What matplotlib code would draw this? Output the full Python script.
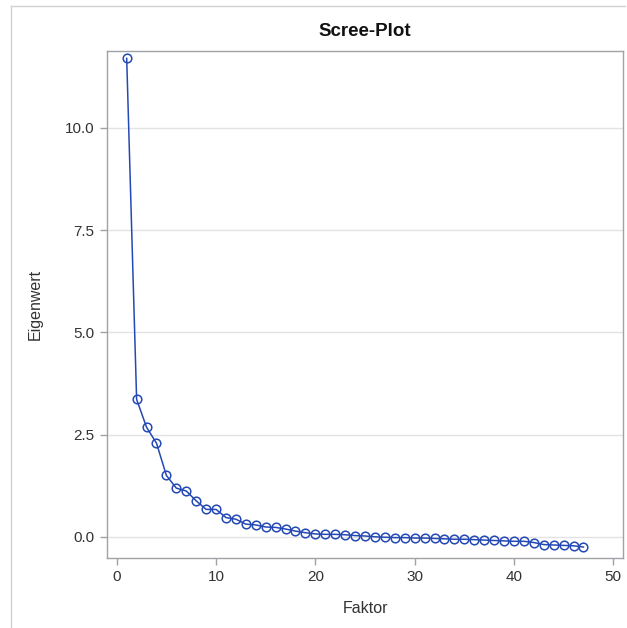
"""Scree plot of factor eigenvalues (SAS style)."""
import matplotlib
matplotlib.use('Agg')
import matplotlib.pyplot as plt
from matplotlib.lines import Line2D

plt.rcParams['font.family'] = ['Liberation Sans', 'DejaVu Sans']

# Data
faktor = list(range(1, 48))
eigenwert = [11.70, 3.36, 2.68, 2.29, 1.50, 1.19, 1.12, 0.88, 0.67, 0.67,
             0.47, 0.43, 0.31, 0.29, 0.24, 0.23, 0.19, 0.14, 0.10, 0.07,
             0.06, 0.06, 0.05, 0.03, 0.02, 0.00, -0.01, -0.02, -0.02, -0.03,
             -0.03, -0.04, -0.05, -0.06, -0.06, -0.07, -0.08, -0.09, -0.10, -0.11,
             -0.11, -0.14, -0.19, -0.20, -0.21, -0.22, -0.25]
x_ticks = [0, 10, 20, 30, 40, 50]
y_ticks = [0.0, 2.5, 5.0, 7.5, 10.0]

C_LINE = '#2549B4'
C_FRAME = '#9FA3A8'
C_GRID = '#E3E3E3'
C_TEXT = '#333333'

fig = plt.figure(figsize=(6.27, 6.28), dpi=100)
ax = fig.add_axes([0.1707, 0.112, 0.8229, 0.8068])

ax.plot(faktor, eigenwert, color=C_LINE, lw=1.1, marker='o', markersize=6.2,
        markerfacecolor='none', markeredgecolor=C_LINE, markeredgewidth=1.1,
        zorder=3)

ax.set_xlim(-0.98, 50.98)
ax.set_ylim(-0.51, 11.88)
ax.set_xticks(x_ticks)
ax.set_yticks(y_ticks)
ax.set_yticklabels([f'{v:.1f}' for v in y_ticks])
ax.grid(axis='y', color=C_GRID, lw=1, zorder=0)
ax.set_axisbelow(True)

for s in ax.spines.values():
    s.set_color(C_FRAME)
    s.set_linewidth(1)
ax.tick_params(colors=C_FRAME, labelcolor=C_TEXT, labelsize=11, length=5,
               width=1, pad=4)

ax.set_title('Scree-Plot', fontsize=13.5, fontweight='bold', color='#111111', pad=11)
ax.set_xlabel('Faktor', fontsize=11.5, color=C_TEXT, labelpad=12)
ax.set_ylabel('Eigenwert', fontsize=11.5, color=C_TEXT, labelpad=16)

# outer frame of the graph region (left and top edges)
fig.add_artist(Line2D([11 / 627, 11 / 627], [0, 1 - 6 / 628], color='#D0D0D0',
                      lw=1, transform=fig.transFigure))
fig.add_artist(Line2D([11 / 627, 625 / 627], [1 - 6 / 628, 1 - 6 / 628],
                      color='#D0D0D0', lw=1, transform=fig.transFigure))

fig.savefig('out.png', dpi=100)
